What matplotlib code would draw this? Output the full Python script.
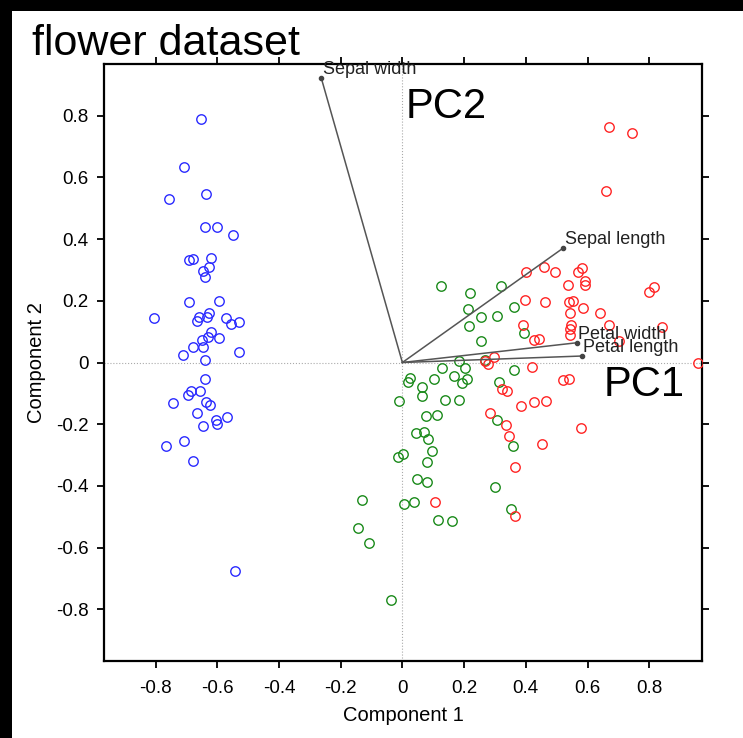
import matplotlib
matplotlib.use("Agg")
import matplotlib.pyplot as plt
from matplotlib.patches import Rectangle

plt.rcParams['font.family'] = ['Liberation Sans', 'DejaVu Sans']

# ---- data (PCA scores) ----
setosa_x = [-0.653, -0.707, -0.756, -0.635, -0.639, -0.601, -0.549, -0.691, -0.678, -0.619,
            -0.626, -0.646, -0.640, -0.692, -0.593, -0.804, -0.658, -0.665, -0.628, -0.634,
            -0.571, -0.556, -0.530, -0.621, -0.630, -0.648, -0.595, -0.677, -0.645, -0.528,
            -0.710, -0.639, -0.641, -0.686, -0.694, -0.657, -0.742, -0.635, -0.622, -0.666,
            -0.605, -0.602, -0.567, -0.646, -0.707, -0.765, -0.678, -0.542]
setosa_y = [0.789, 0.633, 0.531, 0.548, 0.439, 0.440, 0.415, 0.333, 0.336, 0.340,
            0.311, 0.297, 0.276, 0.197, 0.199, 0.143, 0.147, 0.135, 0.162, 0.147,
            0.144, 0.125, 0.130, 0.099, 0.084, 0.074, 0.078, 0.050, 0.050, 0.035,
            0.023, 0.009, -0.054, -0.092, -0.105, -0.092, -0.132, -0.128, -0.139, -0.165,
            -0.188, -0.199, -0.177, -0.206, -0.255, -0.272, -0.318, -0.675]

versicolor_x = [0.125, 0.218, 0.321, 0.214, 0.254, 0.306, 0.361, 0.215, 0.394, 0.254,
                0.182, 0.269, 0.128, 0.203, 0.025, 0.019, 0.102, 0.167, 0.209, 0.194,
                0.363, 0.312, 0.065, 0.065, -0.010, 0.137, 0.183, 0.075, 0.112, 0.306,
                0.045, 0.070, 0.083, 0.096, 0.002, -0.013, 0.079, 0.357, 0.047, 0.081,
                0.301, -0.132, 0.005, 0.038, 0.352, 0.116, 0.161, -0.143, -0.108, -0.037]
versicolor_y = [0.248, 0.225, 0.249, 0.175, 0.148, 0.151, 0.180, 0.117, 0.095, 0.071,
                0.006, 0.009, -0.018, -0.018, -0.051, -0.062, -0.054, -0.045, -0.053, -0.066,
                -0.024, -0.062, -0.081, -0.110, -0.126, -0.121, -0.121, -0.173, -0.170, -0.185,
                -0.229, -0.225, -0.248, -0.287, -0.297, -0.307, -0.324, -0.272, -0.378, -0.386,
                -0.405, -0.447, -0.458, -0.454, -0.474, -0.510, -0.514, -0.537, -0.585, -0.771]

virginica_x = [0.670, 0.745, 0.659, 0.399, 0.459, 0.494, 0.569, 0.583, 0.591, 0.593,
               0.536, 0.799, 0.814, 0.397, 0.463, 0.539, 0.553, 0.586, 0.543, 0.640,
               0.391, 0.546, 0.544, 0.669, 0.842, 0.543, 0.426, 0.442, 0.703, 0.297,
               0.268, 0.279, 0.419, 0.959, 0.520, 0.540, 0.322, 0.340, 0.386, 0.425,
               0.464, 0.283, 0.335, 0.347, 0.580, 0.453, 0.364, 0.105, 0.364]
virginica_y = [0.764, 0.745, 0.557, 0.295, 0.310, 0.295, 0.292, 0.305, 0.265, 0.250,
               0.252, 0.229, 0.244, 0.202, 0.197, 0.196, 0.200, 0.177, 0.160, 0.160,
               0.122, 0.122, 0.110, 0.120, 0.116, 0.088, 0.074, 0.077, 0.071, 0.019,
               0.006, -0.005, -0.013, 0.000, -0.056, -0.054, -0.086, -0.093, -0.141, -0.128,
               -0.124, -0.165, -0.204, -0.239, -0.211, -0.264, -0.339, -0.453, -0.499]

# ---- loadings ----
loading_names = ['Sepal width', 'Sepal length', 'Petal width', 'Petal length']
loading_x = [-0.263, 0.521, 0.565, 0.581]
loading_y = [0.923, 0.371, 0.064, 0.021]

ticks = [-0.8, -0.6, -0.4, -0.2, 0, 0.2, 0.4, 0.6, 0.8]
tick_labels = ['-0.8', '-0.6', '-0.4', '-0.2', '0', '0.2', '0.4', '0.6', '0.8']

W, H = 743, 738
fig = plt.figure(figsize=(W / 100, H / 100), dpi=100, facecolor='white')

# black screenshot border (top and left)
fig.patches.append(Rectangle((0, 1 - 11 / H), 1, 11 / H, transform=fig.transFigure,
                             facecolor='black', edgecolor='none', zorder=-10))
fig.patches.append(Rectangle((0, 0), 12 / W, 1, transform=fig.transFigure,
                             facecolor='black', edgecolor='none', zorder=-10))

ax = fig.add_axes([104 / W, 1 - 661 / H, 598 / W, 597 / H])
ax.set_xlim(-0.967, 0.971)
ax.set_ylim(-0.968, 0.968)

ax.axhline(0, color='#aaaaaa', lw=0.8, ls=':', zorder=1)
ax.axvline(0, color='#aaaaaa', lw=0.8, ls=':', zorder=1)

mk = dict(marker='o', ms=6.8, mfc='none', mew=1.0, ls='none', zorder=3)
ax.plot(setosa_x, setosa_y, mec='#2a2aff', **mk)
ax.plot(versicolor_x, versicolor_y, mec='#1a8a1a', **mk)
ax.plot(virginica_x, virginica_y, mec='#ff2424', **mk)

for name, lx, ly in zip(loading_names, loading_x, loading_y):
    ax.plot([0, lx], [0, ly], color='#555555', lw=1.1, zorder=4)
    ax.plot([lx], [ly], 'o', color='#444444', ms=3, zorder=5)
    ax.annotate(name, (lx, ly), xytext=(1, 3), textcoords='offset points',
                ha='left', va='baseline', fontsize=13, color='#222222', zorder=6)

ax.text(0.009, 0.793, 'PC2', fontsize=30, ha='left', va='baseline', color='black')
ax.text(0.651, -0.110, 'PC1', fontsize=30, ha='left', va='baseline', color='black')

ax.set_xticks(ticks)
ax.set_xticklabels(tick_labels)
ax.set_yticks(ticks)
ax.set_yticklabels(tick_labels)
ax.tick_params(axis='both', direction='out', length=5, width=1.3, labelsize=13.5, top=True,
               right=True, labeltop=False, labelright=False)
ax.tick_params(axis='x', pad=9)
ax.tick_params(axis='y', pad=6)
for sp in ax.spines.values():
    sp.set_linewidth(1.6)

ax.set_xlabel('Component 1', fontsize=14.5, labelpad=6)
ax.set_ylabel('Component 2', fontsize=14.5, labelpad=7)

fig.text(32 / W, 1 - 55 / H, 'flower dataset', fontsize=31, ha='left', va='baseline')

fig.savefig('out.png', dpi=100, facecolor='white')
